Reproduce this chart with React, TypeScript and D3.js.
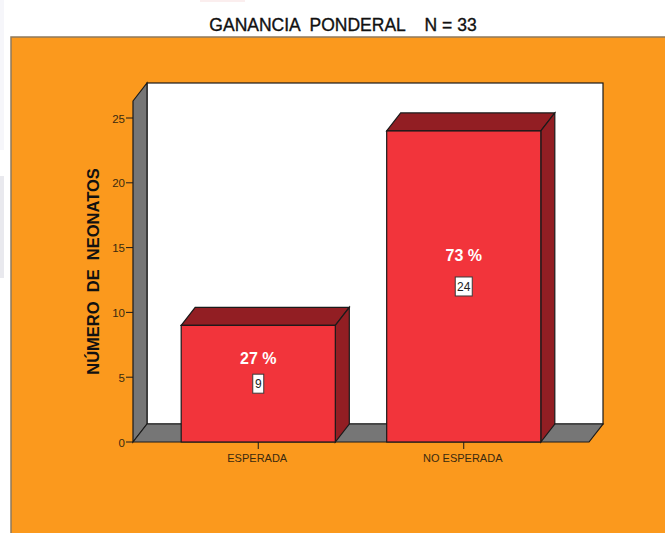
import React from "react";
import * as d3 from "d3";

const categories = ["ESPERADA", "NO ESPERADA"];
const counts = [9, 24];
const percents = ["27 %", "73 %"];
const yTicks = [0, 5, 10, 15, 20, 25];
const titleText = "GANANCIA  PONDERAL    N = 33";
const yTitle = "NÚMERO  DE  NEONATOS";

const W = 665, H = 533;
const dx = 14, dy = -18;
const y = d3.scaleLinear().domain([0, 25]).range([442, 118]);
const x = d3.scaleBand<string>().domain(categories).range([133, 589]).paddingInner(0.25).paddingOuter(0.2345);
const yTop = 101; // top of the left wall, front edge
const floorY = y(0);
const L = x.range()[0], R = x.range()[1];
const font = "'Liberation Sans', Arial, sans-serif";
const line = "#1a1a1a";
const poly = (p: number[][]) => d3.line()(p as [number, number][]) + "Z";

export default function App() {
  return (
    <svg width={W} height={H} viewBox={`0 0 ${W} ${H}`} style={{ position: "absolute", left: 0, top: 0, display: "block" }} fontFamily={font}>
      <rect width={W} height={H} fill="#ffffff" />
      <rect x={0} y={0} width={4} height={150} fill="#f6f6fa" />
      <rect x={0} y={176} width={4} height={102} fill="#e9e9ee" />
      <rect x={200} y={0} width={45} height={2} fill="#fbeeee" />
      <text x={343} y={31} textAnchor="middle" fontSize={17.5} fill="#111" stroke="#111" strokeWidth={0.35} style={{ whiteSpace: "pre" }}>{titleText}</text>

      <rect x={11} y={37} width={W} height={H} fill="#fb991d" stroke="#8f7a5c" strokeWidth={1.5} />

      {/* back wall */}
      <rect x={L + dx} y={yTop + dy} width={R - L} height={floorY - yTop} fill="#ffffff" stroke={line} strokeWidth={1.2} />
      {/* left wall */}
      <path d={poly([[L, yTop], [L + dx, yTop + dy], [L + dx, floorY + dy], [L, floorY]])} fill="#767676" stroke={line} strokeWidth={1.2} />
      {/* floor */}
      <path d={poly([[L, floorY], [L + dx, floorY + dy], [R + dx, floorY + dy], [R, floorY]])} fill="#767676" stroke={line} strokeWidth={1.2} />

      {/* y axis */}
      {yTicks.map((t) => (
        <g key={t}>
          <line x1={L - 7} x2={L} y1={y(t)} y2={y(t)} stroke={line} strokeWidth={1} />
          <text x={L - 8} y={y(t) + 4.5} textAnchor="end" fontSize={11.5} fill="#3a2a10">{t}</text>
        </g>
      ))}
      <text transform={`translate(99,271.5) rotate(-90)`} textAnchor="middle" fontSize={16.5} fontWeight="bold" fill="#111" style={{ whiteSpace: "pre" }}>{yTitle}</text>

      {/* bars */}
      {categories.map((c, i) => {
        const x0 = x(c)!, x1 = x0 + x.bandwidth(), top = y(counts[i]);
        const cx = x0 + x.bandwidth() / 2;
        const labelY = y(counts[i] / 2);
        const boxW = counts[i] < 10 ? 11 : 17;
        const pctGap = counts[i] < 10 ? 20 : 25.5;
        return (
          <g key={c}>
            <path d={poly([[x0, top], [x0 + dx, top + dy], [x1 + dx, top + dy], [x1, top]])} fill="#921e23" stroke={line} strokeWidth={1.2} />
            <path d={poly([[x1, top], [x1 + dx, top + dy], [x1 + dx, floorY + dy], [x1, floorY]])} fill="#921e23" stroke={line} strokeWidth={1.2} />
            <rect x={x0} y={top} width={x.bandwidth()} height={floorY - top} fill="#f2343b" stroke={line} strokeWidth={1.2} />
            <text x={cx} y={labelY - pctGap} textAnchor="middle" fontSize={16} fontWeight="bold" fill="#ffffff">{percents[i]}</text>
            <rect x={cx - boxW / 2} y={labelY - 9.5} width={boxW} height={19} fill="#ffffff" stroke="#3a3a3a" strokeWidth={1} />
            <text x={cx} y={labelY + 4.5} textAnchor="middle" fontSize={12} fill="#222">{counts[i]}</text>
            <line x1={cx} x2={cx} y1={floorY} y2={floorY + 7} stroke={line} strokeWidth={1} />
            <text x={cx - 1} y={floorY + 19.5} textAnchor="middle" fontSize={11} fill="#3a2a10">{c}</text>
          </g>
        );
      })}
    </svg>
  );
}
